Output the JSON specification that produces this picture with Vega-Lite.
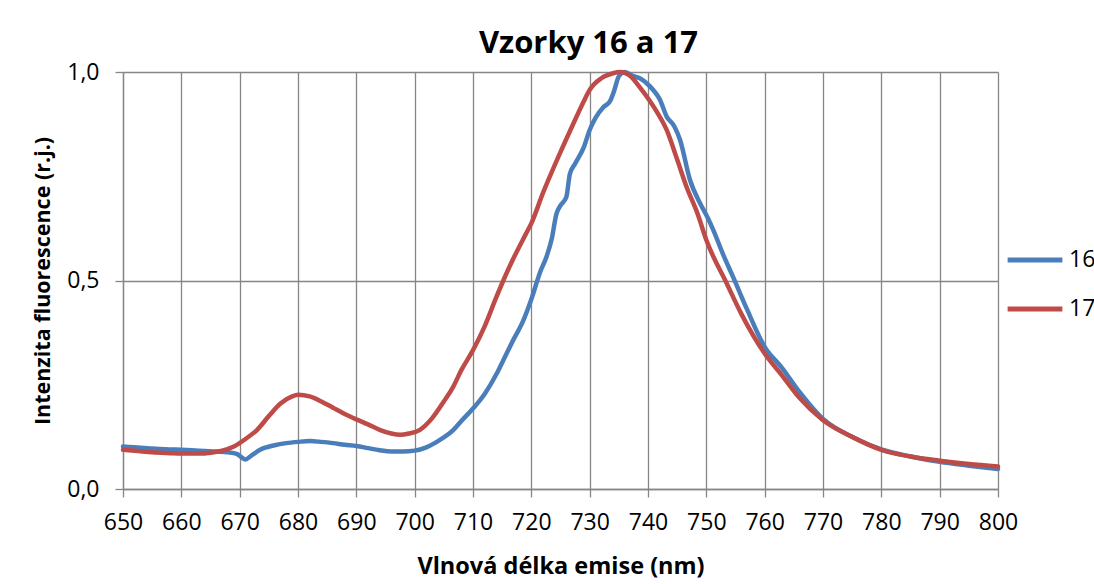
{
  "$schema": "https://vega.github.io/schema/vega-lite/v6.json",
  "width": 875,
  "height": 417,
  "autosize": {"type": "none"},
  "padding": {"left": 123, "top": 72, "right": 96, "bottom": 95},
  "background": "white",
  "title": {
    "text": "Vzorky 16 a 17",
    "font": "Open Sans",
    "fontSize": 31,
    "fontWeight": "bold",
    "color": "black",
    "anchor": "middle",
    "dx": 28,
    "offset": 1
  },
  "data": {
    "values": [
      {"nm": 650, "v": 0.102, "s": "16"},
      {"nm": 652, "v": 0.100, "s": "16"},
      {"nm": 655, "v": 0.097, "s": "16"},
      {"nm": 658, "v": 0.095, "s": "16"},
      {"nm": 660, "v": 0.094, "s": "16"},
      {"nm": 663, "v": 0.092, "s": "16"},
      {"nm": 666, "v": 0.090, "s": "16"},
      {"nm": 668, "v": 0.088, "s": "16"},
      {"nm": 669.5, "v": 0.084, "s": "16"},
      {"nm": 671, "v": 0.071, "s": "16"},
      {"nm": 672, "v": 0.080, "s": "16"},
      {"nm": 673.5, "v": 0.094, "s": "16"},
      {"nm": 676, "v": 0.105, "s": "16"},
      {"nm": 678, "v": 0.110, "s": "16"},
      {"nm": 680, "v": 0.113, "s": "16"},
      {"nm": 682, "v": 0.115, "s": "16"},
      {"nm": 684, "v": 0.113, "s": "16"},
      {"nm": 686, "v": 0.110, "s": "16"},
      {"nm": 688, "v": 0.106, "s": "16"},
      {"nm": 690, "v": 0.103, "s": "16"},
      {"nm": 692, "v": 0.098, "s": "16"},
      {"nm": 694, "v": 0.093, "s": "16"},
      {"nm": 696, "v": 0.090, "s": "16"},
      {"nm": 698, "v": 0.090, "s": "16"},
      {"nm": 700, "v": 0.092, "s": "16"},
      {"nm": 702, "v": 0.100, "s": "16"},
      {"nm": 704, "v": 0.115, "s": "16"},
      {"nm": 706.6, "v": 0.141, "s": "16"},
      {"nm": 708, "v": 0.163, "s": "16"},
      {"nm": 710, "v": 0.193, "s": "16"},
      {"nm": 712, "v": 0.228, "s": "16"},
      {"nm": 714, "v": 0.275, "s": "16"},
      {"nm": 715.2, "v": 0.309, "s": "16"},
      {"nm": 717, "v": 0.36, "s": "16"},
      {"nm": 718.5, "v": 0.40, "s": "16"},
      {"nm": 720, "v": 0.455, "s": "16"},
      {"nm": 721.5, "v": 0.52, "s": "16"},
      {"nm": 722.6, "v": 0.557, "s": "16"},
      {"nm": 723.5, "v": 0.60, "s": "16"},
      {"nm": 724.3, "v": 0.66, "s": "16"},
      {"nm": 725, "v": 0.68, "s": "16"},
      {"nm": 726, "v": 0.70, "s": "16"},
      {"nm": 726.6, "v": 0.755, "s": "16"},
      {"nm": 727.5, "v": 0.78, "s": "16"},
      {"nm": 729, "v": 0.82, "s": "16"},
      {"nm": 730, "v": 0.861, "s": "16"},
      {"nm": 731, "v": 0.89, "s": "16"},
      {"nm": 732.3, "v": 0.915, "s": "16"},
      {"nm": 733.5, "v": 0.93, "s": "16"},
      {"nm": 734.2, "v": 0.955, "s": "16"},
      {"nm": 735, "v": 0.99, "s": "16"},
      {"nm": 736, "v": 1.0, "s": "16"},
      {"nm": 737.5, "v": 0.99, "s": "16"},
      {"nm": 738.6, "v": 0.985, "s": "16"},
      {"nm": 740, "v": 0.97, "s": "16"},
      {"nm": 741, "v": 0.955, "s": "16"},
      {"nm": 742, "v": 0.935, "s": "16"},
      {"nm": 743.2, "v": 0.893, "s": "16"},
      {"nm": 744.5, "v": 0.87, "s": "16"},
      {"nm": 745.5, "v": 0.837, "s": "16"},
      {"nm": 747.2, "v": 0.741, "s": "16"},
      {"nm": 748.9, "v": 0.686, "s": "16"},
      {"nm": 750, "v": 0.657, "s": "16"},
      {"nm": 751.2, "v": 0.621, "s": "16"},
      {"nm": 752.8, "v": 0.565, "s": "16"},
      {"nm": 754.6, "v": 0.508, "s": "16"},
      {"nm": 757, "v": 0.43, "s": "16"},
      {"nm": 760, "v": 0.341, "s": "16"},
      {"nm": 763, "v": 0.29, "s": "16"},
      {"nm": 766, "v": 0.232, "s": "16"},
      {"nm": 770, "v": 0.168, "s": "16"},
      {"nm": 775, "v": 0.125, "s": "16"},
      {"nm": 780, "v": 0.095, "s": "16"},
      {"nm": 785, "v": 0.078, "s": "16"},
      {"nm": 790, "v": 0.065, "s": "16"},
      {"nm": 795, "v": 0.056, "s": "16"},
      {"nm": 800, "v": 0.048, "s": "16"},
      {"nm": 650, "v": 0.094, "s": "17"},
      {"nm": 652, "v": 0.092, "s": "17"},
      {"nm": 655, "v": 0.088, "s": "17"},
      {"nm": 658, "v": 0.086, "s": "17"},
      {"nm": 660, "v": 0.085, "s": "17"},
      {"nm": 663, "v": 0.085, "s": "17"},
      {"nm": 665, "v": 0.087, "s": "17"},
      {"nm": 667, "v": 0.092, "s": "17"},
      {"nm": 669, "v": 0.102, "s": "17"},
      {"nm": 671, "v": 0.120, "s": "17"},
      {"nm": 673, "v": 0.142, "s": "17"},
      {"nm": 675, "v": 0.175, "s": "17"},
      {"nm": 677, "v": 0.205, "s": "17"},
      {"nm": 679, "v": 0.222, "s": "17"},
      {"nm": 680, "v": 0.226, "s": "17"},
      {"nm": 682, "v": 0.222, "s": "17"},
      {"nm": 684, "v": 0.210, "s": "17"},
      {"nm": 686, "v": 0.195, "s": "17"},
      {"nm": 688, "v": 0.180, "s": "17"},
      {"nm": 690, "v": 0.167, "s": "17"},
      {"nm": 692, "v": 0.155, "s": "17"},
      {"nm": 694, "v": 0.142, "s": "17"},
      {"nm": 696, "v": 0.133, "s": "17"},
      {"nm": 697.5, "v": 0.130, "s": "17"},
      {"nm": 699, "v": 0.133, "s": "17"},
      {"nm": 700.9, "v": 0.142, "s": "17"},
      {"nm": 703, "v": 0.170, "s": "17"},
      {"nm": 705, "v": 0.210, "s": "17"},
      {"nm": 706.6, "v": 0.245, "s": "17"},
      {"nm": 708, "v": 0.285, "s": "17"},
      {"nm": 710, "v": 0.333, "s": "17"},
      {"nm": 712, "v": 0.39, "s": "17"},
      {"nm": 714, "v": 0.46, "s": "17"},
      {"nm": 715.2, "v": 0.50, "s": "17"},
      {"nm": 717, "v": 0.555, "s": "17"},
      {"nm": 719, "v": 0.61, "s": "17"},
      {"nm": 720, "v": 0.637, "s": "17"},
      {"nm": 722, "v": 0.71, "s": "17"},
      {"nm": 724.9, "v": 0.805, "s": "17"},
      {"nm": 727, "v": 0.87, "s": "17"},
      {"nm": 729, "v": 0.93, "s": "17"},
      {"nm": 730, "v": 0.957, "s": "17"},
      {"nm": 732, "v": 0.985, "s": "17"},
      {"nm": 734, "v": 0.997, "s": "17"},
      {"nm": 735.2, "v": 1.0, "s": "17"},
      {"nm": 737, "v": 0.99, "s": "17"},
      {"nm": 738.5, "v": 0.965, "s": "17"},
      {"nm": 740.2, "v": 0.933, "s": "17"},
      {"nm": 741.5, "v": 0.905, "s": "17"},
      {"nm": 743.2, "v": 0.861, "s": "17"},
      {"nm": 745, "v": 0.79, "s": "17"},
      {"nm": 746.6, "v": 0.725, "s": "17"},
      {"nm": 748.5, "v": 0.66, "s": "17"},
      {"nm": 750, "v": 0.597, "s": "17"},
      {"nm": 753.5, "v": 0.493, "s": "17"},
      {"nm": 756, "v": 0.42, "s": "17"},
      {"nm": 760, "v": 0.325, "s": "17"},
      {"nm": 763, "v": 0.272, "s": "17"},
      {"nm": 766, "v": 0.218, "s": "17"},
      {"nm": 770, "v": 0.165, "s": "17"},
      {"nm": 775, "v": 0.125, "s": "17"},
      {"nm": 780, "v": 0.094, "s": "17"},
      {"nm": 785, "v": 0.078, "s": "17"},
      {"nm": 790, "v": 0.068, "s": "17"},
      {"nm": 795, "v": 0.060, "s": "17"},
      {"nm": 800, "v": 0.054, "s": "17"}
    ]
  },
  "mark": {"type": "line", "strokeWidth": 4.5, "interpolate": "monotone", "strokeCap": "round", "strokeJoin": "round"},
  "encoding": {
    "x": {
      "field": "nm",
      "type": "quantitative",
      "scale": {"domain": [650, 800], "nice": false, "zero": false},
      "axis": {
        "title": "Vlnová délka emise (nm)",
        "values": [650, 660, 670, 680, 690, 700, 710, 720, 730, 740, 750, 760, 770, 780, 790, 800],
        "format": "d",
        "tickSize": 8,
        "labelPadding": 14,
        "labelFlush": false,
        "labelOverlap": false,
        "labelBound": false,
        "titlePadding": 20,
        "titleFontSize": 23.5
      }
    },
    "y": {
      "field": "v",
      "type": "quantitative",
      "scale": {"domain": [0, 1], "nice": false},
      "axis": {
        "title": "Intenzita fluorescence (r.j.)",
        "values": [0, 0.5, 1],
        "labelExpr": "replace(format(datum.value, '.1f'), '.', ',')",
        "tickSize": 8,
        "labelPadding": 16,
        "labelFlush": false,
        "labelOverlap": false,
        "titlePadding": 12,
        "titleFontSize": 21.5
      }
    },
    "color": {
      "field": "s",
      "type": "nominal",
      "scale": {"domain": ["16", "17"], "range": ["#4A7EBB", "#BE4B48"]},
      "legend": {
        "title": null,
        "orient": "none",
        "legendX": 882,
        "legendY": 158,
        "symbolType": "stroke",
        "symbolSize": 3000,
        "symbolStrokeWidth": 5,
        "labelFont": "Open Sans",
        "labelFontSize": 23,
        "labelColor": "black",
        "labelOffset": 4,
        "rowPadding": 7
      }
    }
  },
  "config": {
    "view": {"stroke": null},
    "axis": {
      "grid": true,
      "gridColor": "#868686",
      "gridWidth": 1.3,
      "domainColor": "#868686",
      "domainWidth": 1.3,
      "tickColor": "#868686",
      "tickWidth": 1.3,
      "labelFont": "Open Sans",
      "labelFontSize": 23,
      "labelColor": "black",
      "titleFont": "Open Sans",
      "titleFontWeight": "bold",
      "titleColor": "black"
    }
  }
}
